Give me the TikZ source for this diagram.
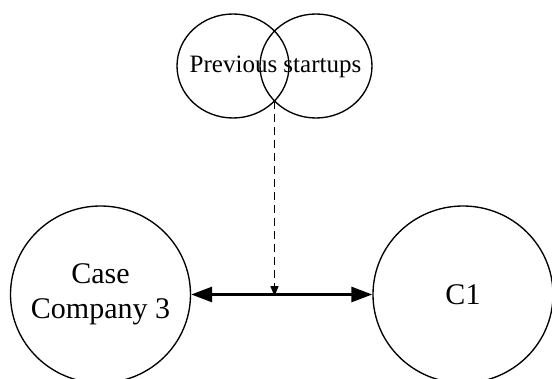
\documentclass[tikz,border=0pt]{standalone}
\usepackage{fontspec}
\setmainfont{Liberation Serif}
\usetikzlibrary{arrows.meta,shapes.geometric,calc}

\tikzset{
  ring/.style={draw, ellipse, line width=1.35pt, inner sep=0pt},
  bigring/.style={ring, minimum width=180pt, minimum height=177pt},
  bigtext/.style={font=\fontsize{30}{35}\selectfont, align=center, inner sep=0pt},
  smallring/.style={ring, minimum width=112pt, minimum height=104pt},
  link/.style={line width=2.9pt, {Triangle[length=21pt,width=15pt]}-{Triangle[length=21pt,width=15pt]}},
  influence/.style={line width=1.5pt, dash pattern=on 8pt off 5pt,
    -{Triangle[length=10pt,width=8pt]}}
}

\begin{document}
\begin{tikzpicture}[x=1pt, y=-1pt]
  \useasboundingbox (0,0) rectangle (552,379);

  % overlapping pair of rings at the top
  \node[smallring] (pa) at (233,66) {};
  \node[smallring] (pb) at (316,66) {};
  \node[font=\fontsize{25}{30}\selectfont] (prev) at (275.5,67) {Previous startups};
  \coordinate (meet) at (274.5,101);

  % the two companies
  \node[bigring] (cc) at (100.5,294.5) {};
  \node[bigtext] (cctext) at (cc.center) {Case\\Company 3};
  \node[bigring] (c1) at (463,294.5) {};
  \node[bigtext] (c1text) at (c1.center) {C1};

  % relationship and the influence on it
  \draw[link] (cc.east) -- (c1.west);
  \draw[influence] (meet) -- ([yshift=-1.6pt]meet |- cc.east);
\end{tikzpicture}
\end{document}
